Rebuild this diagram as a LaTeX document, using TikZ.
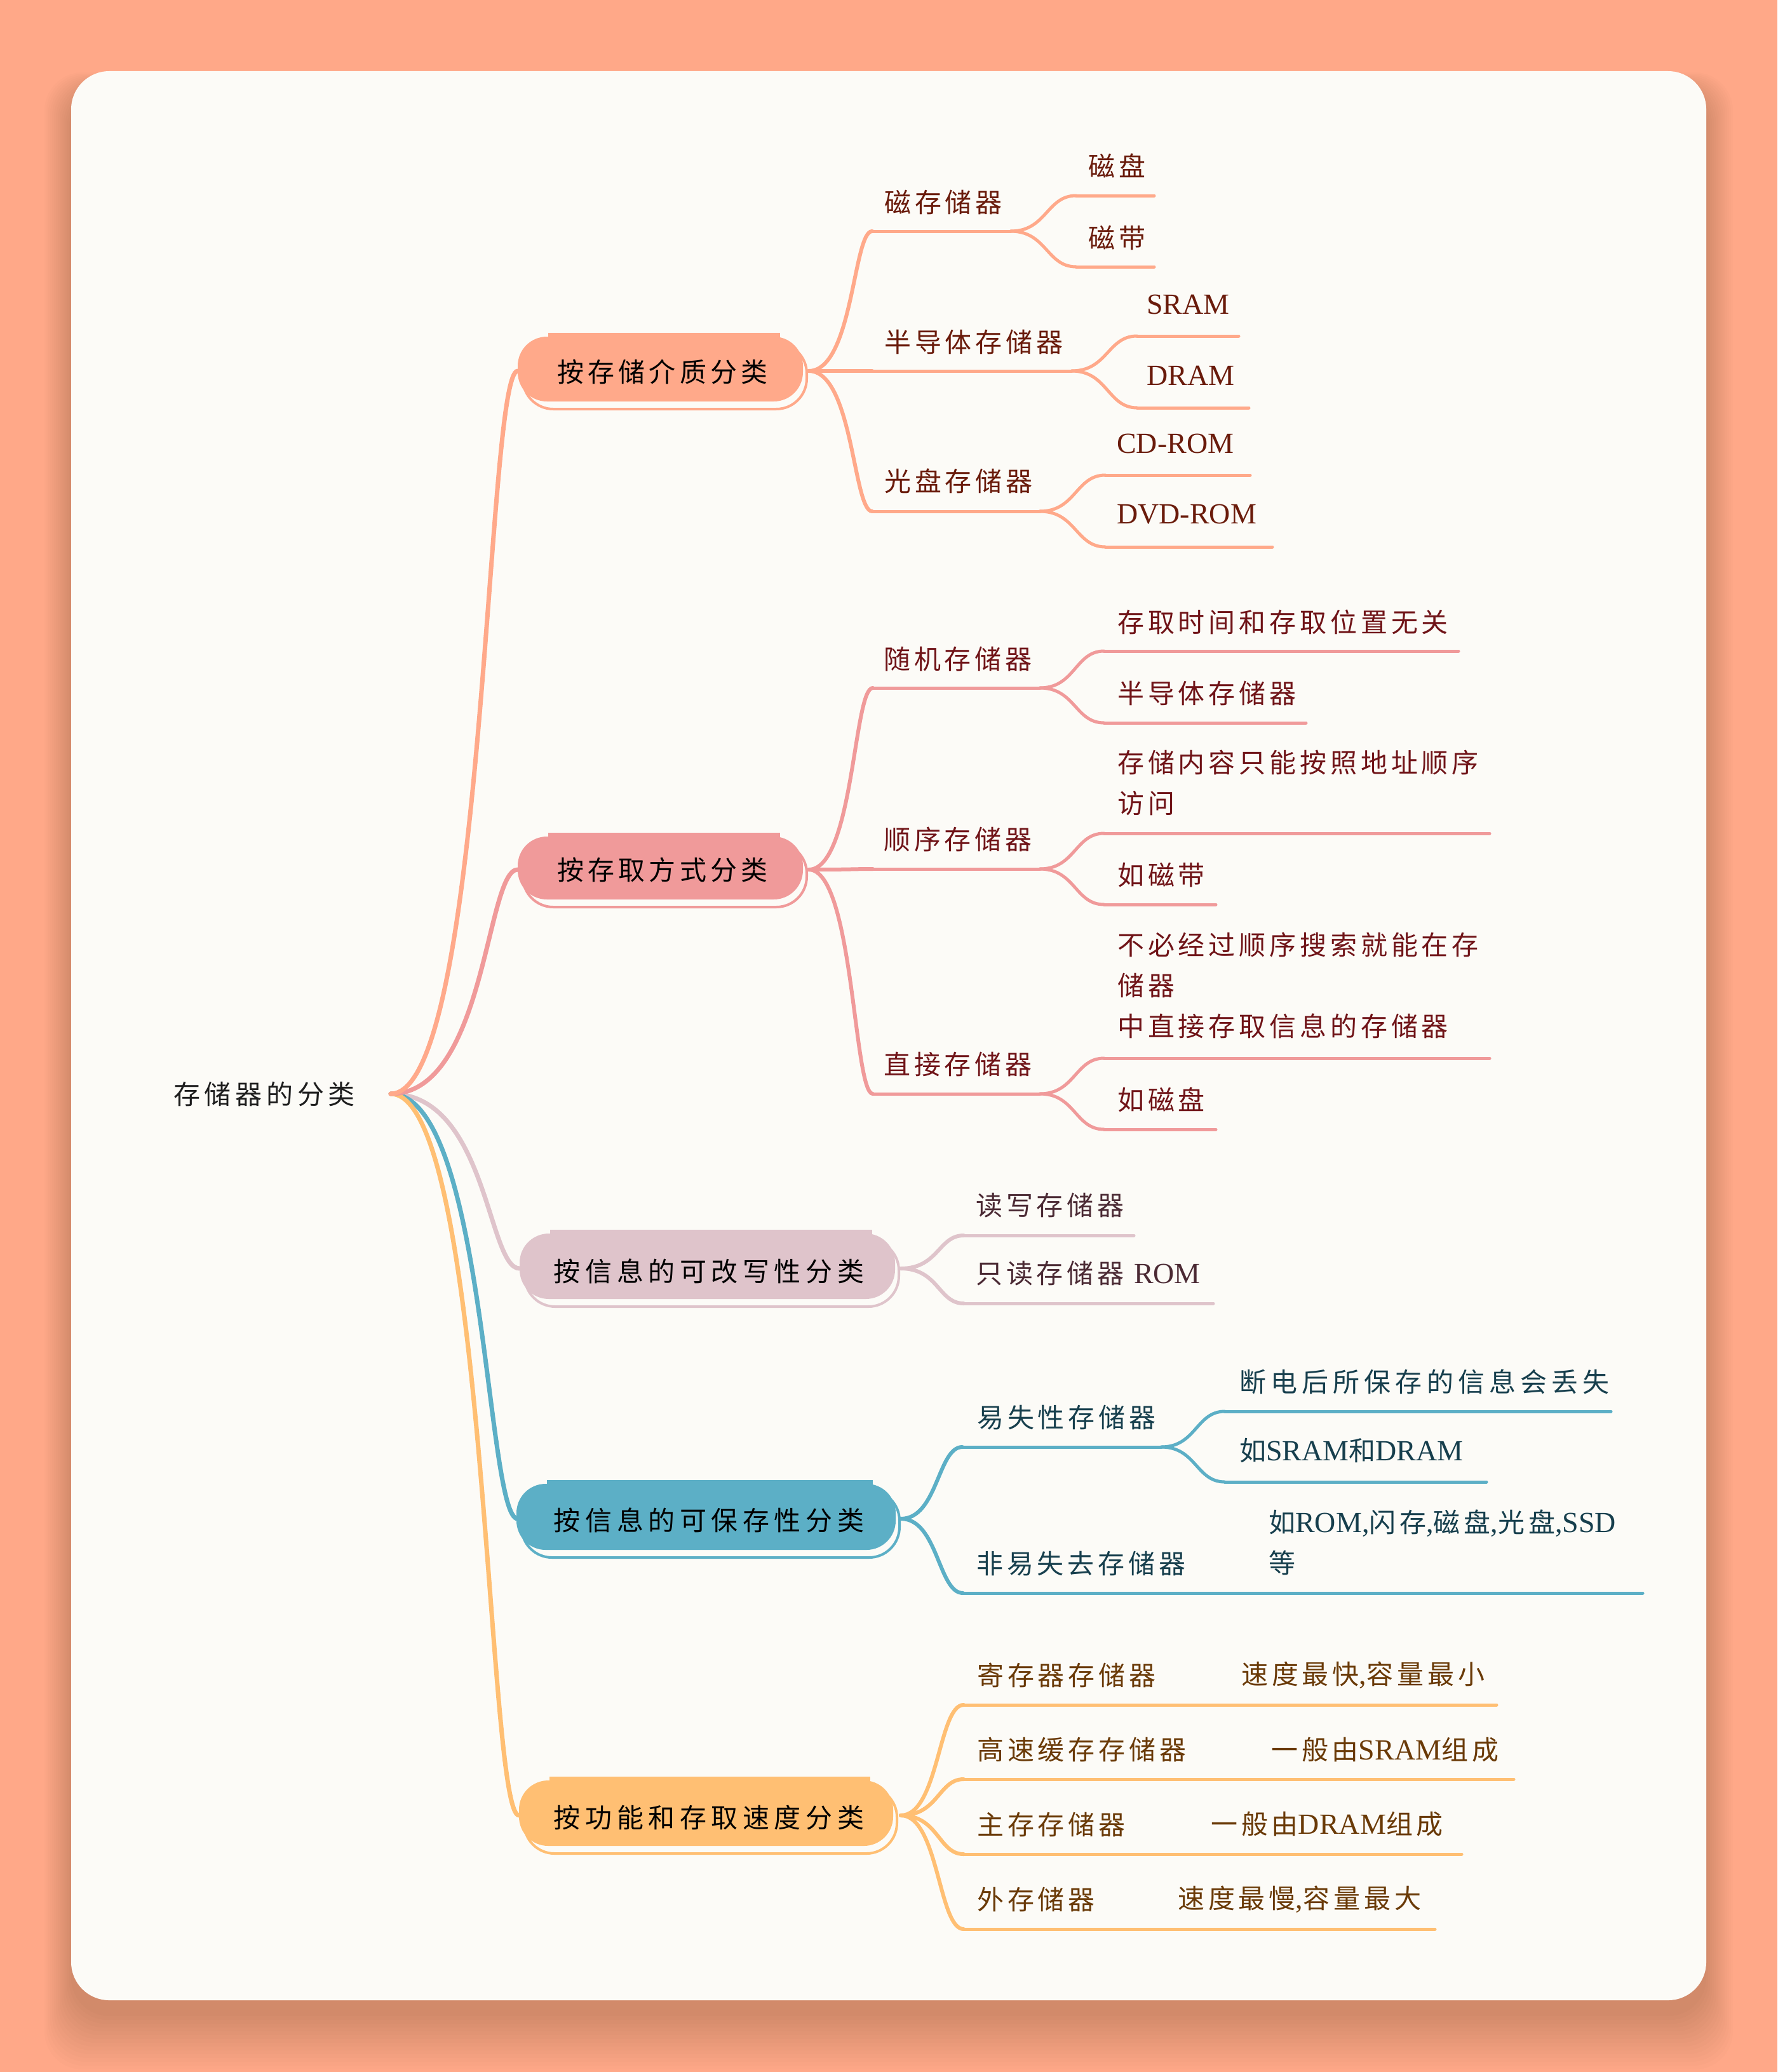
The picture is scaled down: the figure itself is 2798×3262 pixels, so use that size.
\documentclass[tikz,border=0pt]{standalone}
\usepackage{fontspec}
\setmainfont{Noto Sans CJK SC}[LetterSpace=14]
\newfontfamily\latf{Liberation Serif}
\usetikzlibrary{calc}
\definecolor{bgout}{HTML}{FFA888}
\definecolor{card}{HTML}{FCFBF7}
\definecolor{cA}{HTML}{FFA98A}
\definecolor{cB}{HTML}{F09A9A}
\definecolor{cC}{HTML}{DFC4CB}
\definecolor{cD}{HTML}{5CAFC6}
\definecolor{cE}{HTML}{FFBF73}
\definecolor{tA}{HTML}{6A1B0B}
\definecolor{tB}{HTML}{701418}
\definecolor{tC}{HTML}{4B2A34}
\definecolor{tD}{HTML}{173F4D}
\definecolor{tE}{HTML}{6A3A07}
\definecolor{troot}{HTML}{1E1E1E}
\newcommand{\la}[1]{{\latf\fontsize{46}{64}\selectfont #1}}
\newcommand{\conn}[4]{\draw[#1] let \p1=(#3), \p2=(#4) in (#3) .. controls ({\x1+#2*(\x2-\x1)},{\y1}) and ({\x1+#2*(\x2-\x1)},{\y2}) .. (#4);}
\newcommand{\uline}[5]{\coordinate (#1-s) at (#3,#5); \coordinate (#1-e) at (#4,#5); \draw[ul,#2] (#1-s) -- (#1-e);}
\newcommand{\skbox}[5]{%
 \fill[#1, rounded corners=46pt] (#2,#3+6) rectangle (#4-6,#5-12);
 \fill[#1] (#2+48,#3) rectangle (#4-42,#5-22);
 \draw[#1, line width=4pt, rounded corners=48pt] (#2+8,#3+16) rectangle (#4,#5);}
\tikzset{
 txt/.style={anchor=west, inner sep=0pt, align=left, font=\fontsize{42}{64}\selectfont},
 ls/.style={font=\fontsize{42}{64}\selectfont\addfontfeature{LetterSpace=#1}},
 boxtxt/.style={inner sep=0pt, text=black},
 e1/.style={line width=7pt, line cap=round},
 e2/.style={line width=6pt, line cap=round},
 ul/.style={line width=5pt, line cap=round},
}
\begin{document}
\begin{tikzpicture}[x=1pt,y=-1pt]
\useasboundingbox (0,0) rectangle (2798,3262);
\fill[bgout] (0,0) rectangle (2798,3262);
\foreach \i in {0,...,14}{
 \fill[black, opacity=0.011, rounded corners=60pt] ({112-3*\i},{142-2*\i}) rectangle ({2686+3*\i},{3174+6*\i});
}
\fill[card, rounded corners=60pt] (112,112) rectangle (2686,3149);

% anchor coordinates
\coordinate (rootp) at (615,1722);
\coordinate (b1-w) at (815,584); \coordinate (b1-e) at (1273,584);
\coordinate (b2-w) at (815,1369); \coordinate (b2-e) at (1273,1369);
\coordinate (b3-w) at (818,1997); \coordinate (b3-e) at (1418,1997);
\coordinate (b4-w) at (815,2391); \coordinate (b4-e) at (1418,2391);
\coordinate (b5-w) at (817,2858); \coordinate (b5-e) at (1418,2858);

% level 1 connectors
\conn{e1,cC}{0.75}{rootp}{b3-w}
\conn{e1,cD}{0.75}{rootp}{b4-w}
\conn{e1,cE}{0.75}{rootp}{b5-w}
\conn{e1,cB}{0.75}{rootp}{b2-w}
\conn{e1,cA}{0.75}{rootp}{b1-w}

% branch A
\uline{m1}{cA}{1373}{1591}{364}
\uline{m2}{cA}{1373}{1687}{584}
\uline{m3}{cA}{1373}{1637}{805}
\uline{m1a}{cA}{1694}{1817}{308}
\uline{m1b}{cA}{1694}{1817}{420}
\uline{m2a}{cA}{1790}{1950}{529}
\uline{m2b}{cA}{1790}{1966}{642}
\uline{m3a}{cA}{1740}{1968}{748}
\uline{m3b}{cA}{1740}{2003}{861}
\conn{e2,cA}{0.7}{b1-e}{m1-s}
\conn{e2,cA}{0.7}{b1-e}{m2-s}
\conn{e2,cA}{0.7}{b1-e}{m3-s}
\conn{ul,cA}{0.55}{m1-e}{m1a-s}
\conn{ul,cA}{0.55}{m1-e}{m1b-s}
\conn{ul,cA}{0.55}{m2-e}{m2a-s}
\conn{ul,cA}{0.55}{m2-e}{m2b-s}
\conn{ul,cA}{0.55}{m3-e}{m3a-s}
\conn{ul,cA}{0.55}{m3-e}{m3b-s}

% branch B
\uline{a1}{cB}{1374}{1637}{1083}
\uline{a2}{cB}{1374}{1637}{1368}
\uline{a3}{cB}{1374}{1637}{1722}
\uline{a1a}{cB}{1738}{2296}{1025}
\uline{a1b}{cB}{1738}{2056}{1138}
\uline{a2a}{cB}{1738}{2345}{1312}
\uline{a2b}{cB}{1738}{1914}{1424}
\uline{a3a}{cB}{1738}{2345}{1666}
\uline{a3b}{cB}{1738}{1914}{1778}
\conn{e2,cB}{0.7}{b2-e}{a1-s}
\conn{e2,cB}{0.7}{b2-e}{a2-s}
\conn{e2,cB}{0.7}{b2-e}{a3-s}
\conn{ul,cB}{0.55}{a1-e}{a1a-s}
\conn{ul,cB}{0.55}{a1-e}{a1b-s}
\conn{ul,cB}{0.55}{a2-e}{a2a-s}
\conn{ul,cB}{0.55}{a2-e}{a2b-s}
\conn{ul,cB}{0.55}{a3-e}{a3a-s}
\conn{ul,cB}{0.55}{a3-e}{a3b-s}

% branch C
\uline{r1}{cC}{1517}{1785}{1945}
\uline{r2}{cC}{1517}{1910}{2052}
\conn{e2,cC}{0.6}{b3-e}{r1-s}
\conn{e2,cC}{0.6}{b3-e}{r2-s}

% branch D
\uline{s1}{cD}{1515}{1828}{2278}
\uline{s2}{cD}{1516}{1878}{2508}
\uline{s1a}{cD}{1928}{2536}{2222}
\uline{s1b}{cD}{1928}{2340}{2333}
\uline{s2a}{cD}{1983}{2586}{2508}
\conn{e2,cD}{0.6}{b4-e}{s1-s}
\conn{e2,cD}{0.6}{b4-e}{s2-s}
\conn{ul,cD}{0.55}{s1-e}{s1a-s}
\conn{ul,cD}{0.55}{s1-e}{s1b-s}
\draw[ul,cD] (s2-e) -- (s2a-s);

% branch E
\uline{f1}{cE}{1517}{1827}{2684}
\uline{f1a}{cE}{1938}{2356}{2684}
\uline{f2}{cE}{1517}{1875}{2801}
\uline{f2a}{cE}{1985}{2383}{2801}
\uline{f3}{cE}{1517}{1780}{2919}
\uline{f3a}{cE}{1887}{2301}{2919}
\uline{f4}{cE}{1517}{1733}{3037}
\uline{f4a}{cE}{1838}{2259}{3037}
\conn{e2,cE}{0.6}{b5-e}{f1-s}
\conn{e2,cE}{0.6}{b5-e}{f2-s}
\conn{e2,cE}{0.6}{b5-e}{f3-s}
\conn{e2,cE}{0.6}{b5-e}{f4-s}
\draw[ul,cE] (f1-e) -- (f1a-s);
\draw[ul,cE] (f2-e) -- (f2a-s);
\draw[ul,cE] (f3-e) -- (f3a-s);
\draw[ul,cE] (f4-e) -- (f4a-s);

% boxes
\skbox{cA}{815}{524}{1270}{644}
\skbox{cB}{815}{1311}{1270}{1428}
\skbox{cC}{818}{1936}{1415}{2057}
\skbox{cD}{813}{2330}{1416}{2452}
\skbox{cE}{817}{2797}{1412}{2918}

% texts
\node[txt,ls=16,text=troot] (root) at (273,1722) {存储器的分类};
\node[boxtxt,ls=15] (b1) at (1043,585) {按存储介质分类};
\node[boxtxt,ls=15] (b2) at (1043,1369) {按存取方式分类};
\node[boxtxt,ls=18] (b3) at (1116,2001) {按信息的可改写性分类};
\node[boxtxt,ls=18] (b4) at (1116,2393) {按信息的可保存性分类};
\node[boxtxt,ls=18] (b5) at (1116,2861) {按功能和存取速度分类};

\begin{scope}[every node/.style={txt,text=tA}]
\node (m1) at (1392,318) {磁存储器};
\node (m2) at (1392,538) {半导体存储器};
\node (m3) at (1392,757) {光盘存储器};
\node (m1a) at (1713,261) {磁盘};
\node (m1b) at (1713,375) {磁带};
\node (m2a) at (1805,479) {\la{SRAM}};
\node (m2b) at (1805,591) {\la{DRAM}};
\node (m3a) at (1758,698) {\la{CD-ROM}};
\node (m3b) at (1758,810) {\la{DVD-ROM}};
\end{scope}

\begin{scope}[every node/.style={txt,text=tB}]
\node (a1) at (1391,1037) {随机存储器};
\node (a2) at (1391,1322) {顺序存储器};
\node (a3) at (1391,1676) {直接存储器};
\node (a1a) at (1759,979) {存取时间和存取位置无关};
\node (a1b) at (1759,1091) {半导体存储器};
\node (a2a) at (1759,1232) {存储内容只能按照地址顺序\\访问};
\node (a2b) at (1759,1378) {如磁带};
\node (a3a) at (1759,1551) {不必经过顺序搜索就能在存\\储器\\中直接存取信息的存储器};
\node (a3b) at (1759,1731) {如磁盘};
\end{scope}

\begin{scope}[every node/.style={txt,text=tC}]
\node (r1) at (1536,1898) {读写存储器};
\node (r2) at (1536,2005) {只读存储器 \la{ROM}};
\end{scope}

\begin{scope}[every node/.style={txt,text=tD}]
\node (s1) at (1538,2232) {易失性存储器};
\node (s2) at (1537,2462) {非易失去存储器};
\node[ls=17] (s1a) at (1951,2175) {断电后所保存的信息会丢失};
\node (s1b) at (1951,2284) {如\la{SRAM}和\la{DRAM}};
\node (s2a) at (1997,2428) {如\la{ROM,}闪存\la{,}磁盘\la{,}光盘\la{,SSD}\\等};
\end{scope}

\begin{scope}[every node/.style={txt,text=tE}]
\node (f1) at (1538,2637) {寄存器存储器};
\node (f1a) at (1954,2637) {速度最快\la{,}容量最小};
\node (f2) at (1538,2755) {高速缓存存储器};
\node (f2a) at (2001,2755) {一般由\la{SRAM}组成};
\node (f3) at (1538,2872) {主存存储器};
\node (f3a) at (1906,2872) {一般由\la{DRAM}组成};
\node (f4) at (1538,2990) {外存储器};
\node (f4a) at (1854,2990) {速度最慢\la{,}容量最大};
\end{scope}
\end{tikzpicture}
\end{document}
